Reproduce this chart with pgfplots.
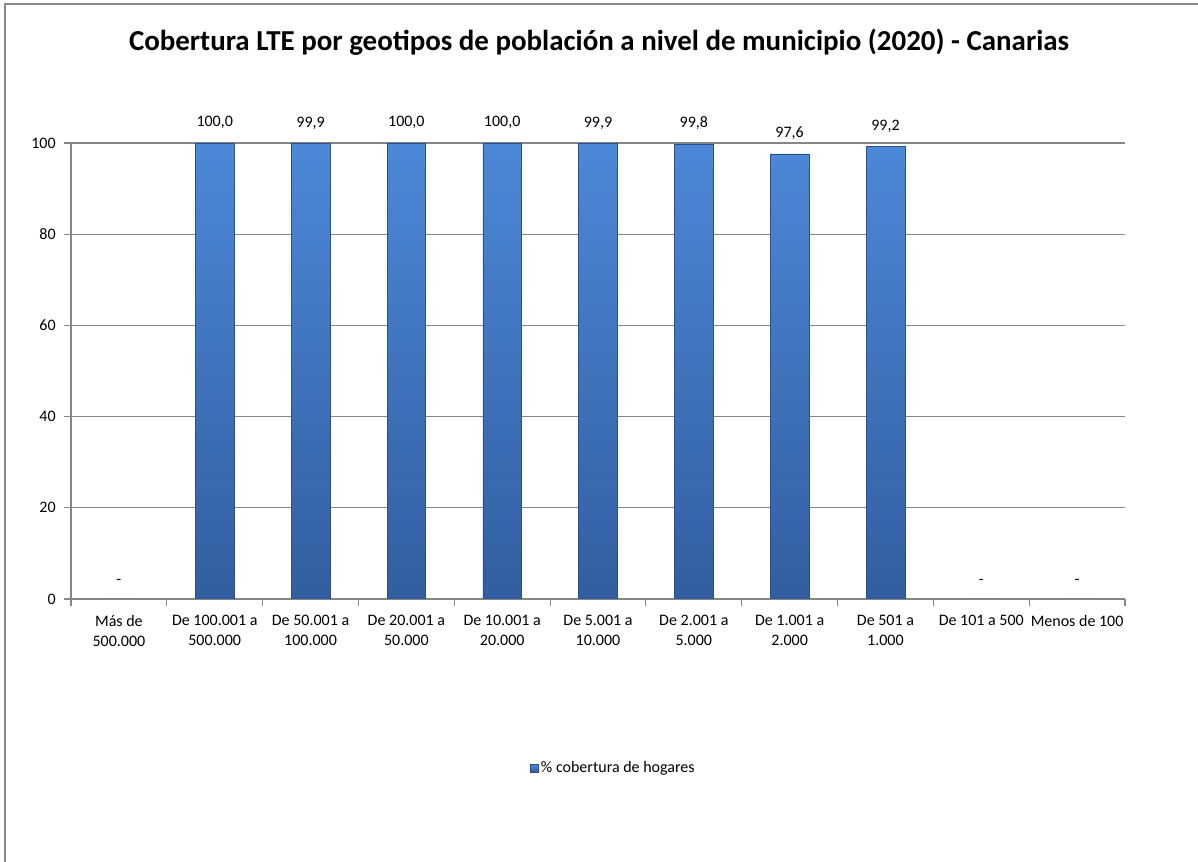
\documentclass[border=0pt]{standalone}
\usepackage{pgfplots}
\pgfplotsset{compat=1.18}
\usepackage{pgfplotstable}
\usepackage{fontspec}
\setmainfont{Carlito}
\definecolor{bartop}{RGB}{76,136,216}
\definecolor{barbot}{RGB}{50,94,160}
\definecolor{baredge}{RGB}{40,80,140}
\definecolor{gridc}{RGB}{134,134,134}
\definecolor{framec}{RGB}{136,136,136}
\pgfplotstableread{
x y label
0 0 -
1 100.0 100,0
2 99.9 99,9
3 100.0 100,0
4 100.0 100,0
5 99.9 99,9
6 99.8 99,8
7 97.6 97,6
8 99.2 99,2
9 0 -
10 0 -
}\data
\begin{document}
\begin{tikzpicture}
\useasboundingbox (0pt,0pt) rectangle (898.5pt,646.5pt);
\draw[framec,line width=1.5pt] (3.75pt,0pt) -- (3.75pt,643.5pt) -- (898.5pt,643.5pt);
\node[font=\fontsize{21.7}{26}\selectfont\bfseries] at (449.25pt,615pt) {Cobertura LTE por geotipos de población a nivel de municipio (2020) - Canarias};
\begin{axis}[
  at={(53.25pt,197.25pt)}, anchor=south west,
  scale only axis, width=790.5pt, height=342pt,
  xmin=-0.5, xmax=10.5, ymin=0, ymax=100,
  enlarge x limits=false,
  axis lines*=left,
  axis line style={gridc, line width=0.8pt},
  ytick={0,20,...,100},
  ymajorgrids, grid style={gridc, line width=0.8pt},
  xtick={0,...,10},
  major x tick style={draw=none},
  minor xtick={-0.5,0.5,...,10.5},
  minor x tick style={gridc, line width=0.8pt},
  minor tick length=5pt,
  major tick length=5pt,
  y tick style={gridc, line width=0.8pt},
  tick align=outside,
  xticklabels={{Más de\\500.000},{De 100.001 a\\500.000},{De 50.001 a\\100.000},{De 20.001 a\\50.000},{De 10.001 a\\20.000},{De 5.001 a\\10.000},{De 2.001 a\\5.000},{De 1.001 a\\2.000},{De 501 a\\1.000},{De 101 a 500},{Menos de 100}},
  xticklabel style={align=center, font=\fontsize{12}{15}\selectfont, anchor=north, yshift=-3.5pt},
  y tick label style={font=\fontsize{12}{14}\selectfont, xshift=-3pt},
  /pgf/number format/assume math mode=true,
  legend style={at={(0.515,-0.371)}, anchor=center, draw=none, font=\fontsize{12}{14}\selectfont, legend cell align=left},
  legend image code/.code={\fill[top color=bartop, bottom color=barbot, draw=baredge, line width=0.3pt] (0cm,-0.1cm) rectangle (0.2cm,0.1cm);},
]
\addplot[ybar, bar width=29pt, top color=bartop, bottom color=barbot, draw=baredge, line width=0.4pt,
  point meta=explicit symbolic,
  nodes near coords, nodes near coords style={font=\fontsize{12}{14}\selectfont, text=black, yshift=7pt}]
  table[x=x, y=y, meta=label] {\data};
\addlegendentry{\% cobertura de hogares}
\end{axis}
\end{tikzpicture}
\end{document}
